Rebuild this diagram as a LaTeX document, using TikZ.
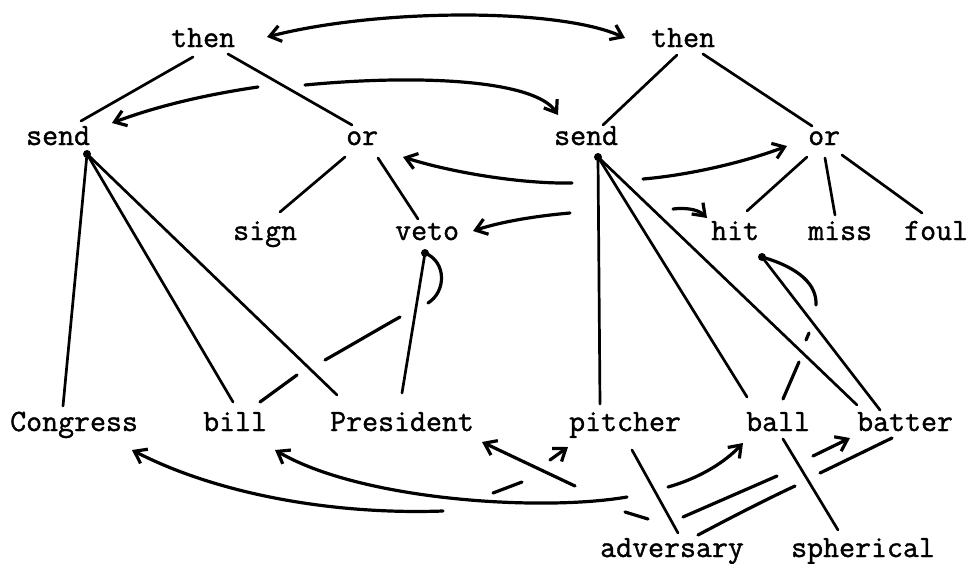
\documentclass[tikz,border=0pt]{standalone}
\usepackage{fontspec}
\newfontfamily\twfont[FakeBold=1.2]{Latin Modern Mono}
\usetikzlibrary{arrows.meta}
\begin{document}
\begin{tikzpicture}[x=1pt,y=-1pt,
  lbl/.style={inner sep=0pt, anchor=base west, font=\fontsize{31}{36}\selectfont\twfont},
  tree/.style={line width=2.7pt, line cap=round},
  hand/.style={line width=3.2pt, line cap=round},
  arr/.style={hand, -{Straight Barb[length=11pt,width=16pt]}},
  arrs/.style={hand, {Straight Barb[length=11pt,width=16pt]}-{Straight Barb[length=11pt,width=16pt]}},
  dot/.style={fill=black}]
\useasboundingbox (0,0) rectangle (967,563);
% labels
\node[lbl] (then1) at (171,47) {then};
\node[lbl] (then2) at (651,47) {then};
\node[lbl] (send1) at (26,145) {send};
\node[lbl] (or1) at (346,145) {or};
\node[lbl] (send2) at (554,145) {send};
\node[lbl] (or2) at (808,145) {or};
\node[lbl] (sign) at (233,240) {sign};
\node[lbl] (veto) at (395,240) {veto};
\node[lbl] (hit) at (711,240) {hit};
\node[lbl] (miss) at (808,240) {miss};
\node[lbl] (foul) at (904,240) {foul};
\node[lbl] (congress) at (10,431) {Congress};
\node[lbl] (bill) at (203,431) {bill};
\node[lbl] (president) at (330,431) {President};
\node[lbl] (pitcher) at (569,431) {pitcher};
\node[lbl] (ball) at (746,431) {ball};
\node[lbl] (batter) at (857,431) {batter};
\node[lbl] (adversary) at (600,557) {adversary};
\node[lbl] (spherical) at (791,557) {spherical};
% junction points
\coordinate (s1d) at (87,154);
\coordinate (s2d) at (598,157);
\coordinate (vd) at (425,253);
\coordinate (hd) at (762,257);
\fill[dot] (s1d) circle (4pt);
\fill[dot] (s2d) circle (4pt);
\fill[dot] (vd) circle (4pt);
\fill[dot] (hd) circle (4pt);
% left tree
\draw[tree] (193,57) -- (81,121);
\draw[tree] (228,54) -- (352,125);
\draw[tree] (345,157) -- (280,212);
\draw[tree] (378,158) -- (418,219);
% right tree
\draw[tree] (677,55) -- (603,125);
\draw[tree] (703,54) -- (812,126);
\draw[tree] (807,157) -- (747,211);
\draw[tree] (825,158) -- (835,215);
\draw[tree] (842,155) -- (922,213);
% send links
\draw[tree] (s1d) -- (63,406);
\draw[tree] (s1d) -- (233,402);
\draw[tree] (s1d) -- (337,395);
\draw[tree] (s2d) -- (600,404);
\draw[tree] (s2d) -- (747,397);
\draw[tree] (s2d) -- (857,405);
\draw[tree] (hd) -- (880,410);
\draw[tree] (vd) -- (402,393);
\draw[tree] (632,450) -- (678,533);
\draw[tree] (783,439) -- (838,530);
% bill - veto
\draw[hand] (260,402) -- (297,375);
\draw[hand] (325,360) .. controls (355,343) and (382,327) .. (400,317);
\draw[hand] (428,303) .. controls (446,292) and (447,262) .. (vd);
% ball - hit
\draw[hand] (783,399) -- (799,362);
\draw[hand] (806,340) -- (809,333);
\draw[hand] (816,305) .. controls (817,285) and (800,268) .. (hd);
% top arrows
\draw[arrs] (267,37) .. controls (380,8) and (560,8) .. (625,38);
\draw[arr] (305,85) .. controls (420,74) and (535,80) .. (558,115);
\draw[arr] (258,87) .. controls (210,94) and (160,105) .. (112,123);
\draw[arr] (572,183) .. controls (520,184) and (450,172) .. (403,157);
\draw[arr] (570,213) .. controls (535,216) and (500,222) .. (473,231);
\draw[arr] (643,179) .. controls (690,175) and (745,162) .. (787,146);
\draw[arr] (673,209) .. controls (690,207) and (700,211) .. (707,218);
% bottom arrows
\draw[arr] (443,511) .. controls (330,515) and (215,493) .. (132,450);
\draw[hand] (625,512) -- (648,519);
\draw[arr] (627,497) .. controls (540,512) and (360,500) .. (275,450);
\draw[arr] (575,486) -- (482,442);
\draw[hand] (493,493) -- (522,482);
\draw[arr] (550,460) -- (568,447);
\draw[arr] (668,487) .. controls (700,478) and (725,462) .. (743,443);
\draw[hand] (683,517) .. controls (715,503) and (745,490) .. (777,476);
\draw[arr] (813,456) -- (850,438);
\draw[hand] (698,535) .. controls (730,518) and (765,500) .. (795,486);
\draw[hand] (820,473) -- (892,438);
\end{tikzpicture}
\end{document}
